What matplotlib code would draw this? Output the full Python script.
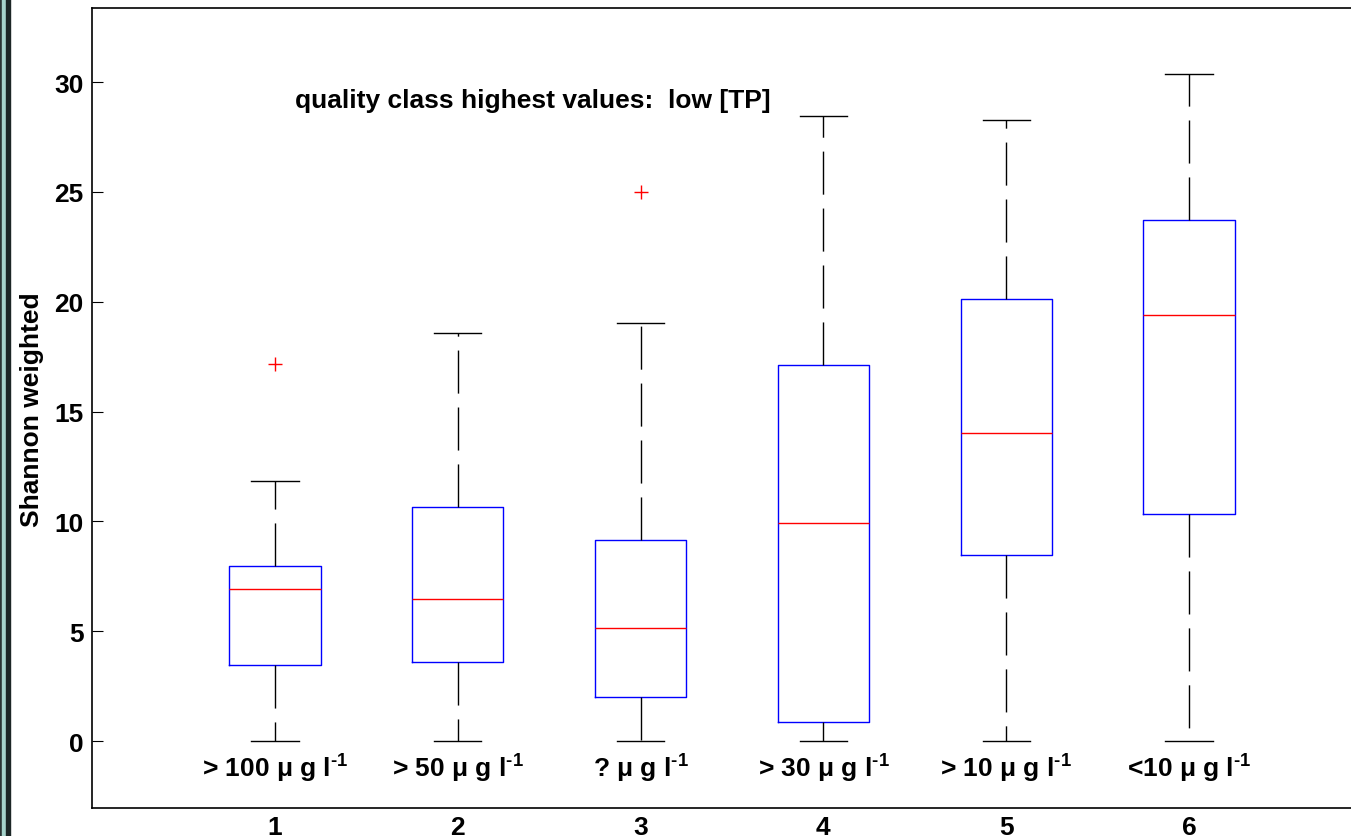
import matplotlib
matplotlib.use("Agg")
import matplotlib.pyplot as plt
from matplotlib.patches import Rectangle

plt.rcParams["font.family"] = ["Liberation Sans", "DejaVu Sans"]
plt.rcParams["font.weight"] = "bold"
plt.rcParams["mathtext.fontset"] = "custom"
plt.rcParams["mathtext.rm"] = "Liberation Sans:bold"
plt.rcParams["mathtext.default"] = "rm"

# box statistics
positions = [1, 2, 3, 4, 5, 6]
whislo = [0, 0, 0, 0, 0, 0]
q1 = [3.48, 3.6, 2.0, 0.86, 8.48, 10.33]
med = [6.93, 6.47, 5.14, 9.92, 14.03, 19.39]
q3 = [7.97, 10.67, 9.15, 17.12, 20.12, 23.72]
whishi = [11.83, 18.58, 19.04, 28.45, 28.27, 30.35]
fliers = [[17.16], [], [24.99], [], [], []]
sup = "$^{\u20101}$"
class_labels = ["> 100 \u03bc g l" + sup, "> 50 \u03bc g l" + sup, "? \u03bc g l" + sup,
                "> 30 \u03bc g l" + sup, "> 10 \u03bc g l" + sup, "<10 \u03bc g l" + sup]
yticks = [0, 5, 10, 15, 20, 25, 30]

stats = []
for i in range(len(positions)):
    stats.append(dict(whislo=whislo[i], q1=q1[i], med=med[i], q3=q3[i],
                      whishi=whishi[i], fliers=fliers[i]))

fig = plt.figure(figsize=(13.51, 8.37), dpi=100)
ax = fig.add_axes([92 / 1351, 28 / 837, 1280 / 1351, 800 / 837])

ax.bxp(stats, positions=positions, widths=0.5,
       boxprops=dict(color="#0000ff", linewidth=1.0),
       medianprops=dict(color="#ff0000", linewidth=1.0),
       whiskerprops=dict(color="black", linewidth=1.0, linestyle=(0, (31, 10))),
       capprops=dict(color="black", linewidth=1.0),
       flierprops=dict(marker="+", markeredgecolor="#ff0000", markersize=10,
                       markeredgewidth=1.0, linestyle="none"),
       capwidths=0.26)

ax.set_xlim(0, 7)
ax.set_ylim(-3.05, 33.37)
ax.set_yticks(yticks)
ax.set_xticks(positions)
ax.set_xticklabels([str(p) for p in positions])
ax.tick_params(axis="y", direction="in", length=8, width=0.8, labelsize=19, pad=6)
ax.tick_params(axis="x", length=0, labelsize=19, pad=5)
for s in ax.spines.values():
    s.set_linewidth(1.2)

ax.text(1.11, 29.2, "quality class highest values:  low [TP]", fontsize=19,
        fontweight="bold", ha="left", va="center")
for p, lab in zip(positions, class_labels):
    ax.text(p, -1.6, lab, fontsize=19, fontweight="bold", ha="center", va="baseline")

fig.text(32 / 1351, 1 - 410 / 837, "Shannon weighted", rotation=90, fontsize=19,
         fontweight="bold", ha="center", va="center")

# window frame strip on the left edge
fig.patches.append(Rectangle((0, 0), 2 / 1351, 1, transform=fig.transFigure,
                             color="#2a3434", zorder=5))
fig.patches.append(Rectangle((2 / 1351, 0), 4 / 1351, 1, transform=fig.transFigure,
                             color="#a6d4cc", zorder=5))
fig.patches.append(Rectangle((6 / 1351, 0), 4 / 1351, 1, transform=fig.transFigure,
                             color="#1c2626", zorder=5))

fig.savefig("out.png", dpi=100)
